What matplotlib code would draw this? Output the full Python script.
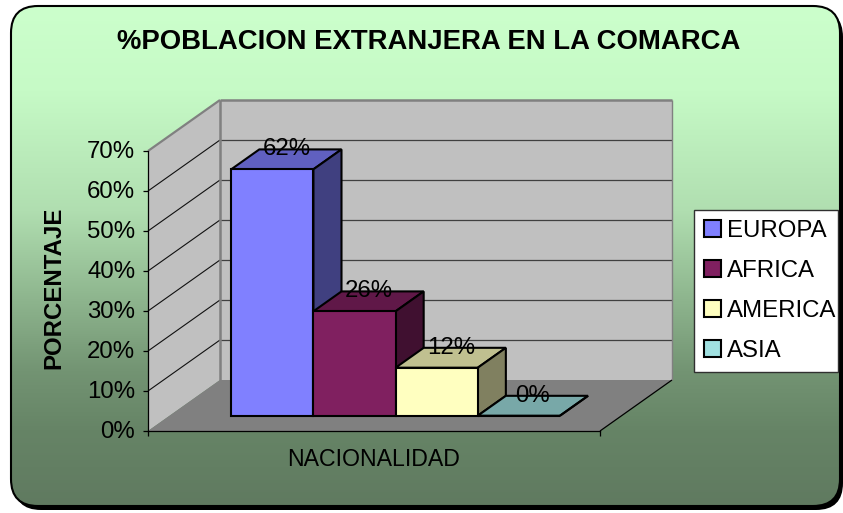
import numpy as np
import matplotlib
matplotlib.use("Agg")
import matplotlib.pyplot as plt
from matplotlib.colors import LinearSegmentedColormap
from matplotlib.patches import FancyBboxPatch, Patch, Polygon, Rectangle
from matplotlib.transforms import Affine2D, IdentityTransform

categories = ["EUROPA", "AFRICA", "AMERICA", "ASIA"]
values = [61.6, 26.1, 12.0, 0.0]
y_ticks = [0, 10, 20, 30, 40, 50, 60, 70]

W, H = 843, 513
front_col = ["#8080FF", "#802060", "#FFFFC0", "#A0E0E0"]
top_col = ["#6060C0", "#601848", "#C0C090", "#78A8A8"]
side_col = ["#404080", "#401030", "#808060", "#507070"]

plt.rcParams["font.family"] = ["Liberation Sans", "DejaVu Sans"]
FS = 17.28  # 24 px at dpi 100

fig = plt.figure(figsize=(W / 100, H / 100), dpi=100, facecolor="white")

# rounded background with shadow, in pixel coords
bg = fig.add_axes([0, 0, 1, 1], zorder=0)
bg.set_xlim(0, W)
bg.set_ylim(H, 0)
bg.axis("off")


def rounded(x0, y0, x1, y1, r, **kw):
    return FancyBboxPatch((x0 + r, y0 + r), x1 - x0 - 2 * r, y1 - y0 - 2 * r,
                          boxstyle=f"round,pad={r},rounding_size={r}", **kw)


bg.add_patch(rounded(14, 10, 843, 510, 27, fc="black", ec="none"))
stops = [(0.0, "#CCFFCC"), (0.17, "#C6FAC6"), (0.41, "#B0DEB0"), (0.57, "#91B991"),
         (0.73, "#739473"), (0.85, "#668466"), (1.0, "#607A60")]
cmap = LinearSegmentedColormap.from_list("bg", stops)
grad = np.linspace(0, 1, 256).reshape(-1, 1)
im = bg.imshow(grad, cmap=cmap, extent=(11, 840, 506, 6), aspect="auto", zorder=1)
bg.set_xlim(0, W)
bg.set_ylim(H, 0)
box = rounded(11, 6, 840, 506, 27, fc="none", ec="black", lw=1.5, zorder=2)
bg.add_patch(box)
im.set_clip_path(box)
# legend frame
bg.add_patch(Rectangle((693.5, 210), 144.5, 162, fc="white", ec="#303030", lw=1.0, zorder=3))

# front plane of the 3d box: value axis and category axis live here
ax = fig.add_axes([148 / W, (H - 431) / H, 452 / W, 280 / H], zorder=1)
ax.patch.set_visible(False)
DEPTH = (72, 51)  # px from front to back of the box
BAR_D0, BAR_D1 = 0.30, 0.69  # bar depth range


def pt(x, v, d):
    px, py = ax.transData.transform((x, v))
    return px + d * DEPTH[0], py + d * DEPTH[1]


def face(corners, **kw):
    ax.add_patch(Polygon([pt(*c) for c in corners], closed=True,
                         transform=IdentityTransform(), clip_on=False, **kw))


def seg(a, b, **kw):
    pa, pb = pt(*a), pt(*b)
    ax.plot([pa[0], pb[0]], [pa[1], pb[1]], transform=IdentityTransform(),
            clip_on=False, solid_capstyle="butt", **kw)


XL, XR = -0.75, 4.75
TOP = y_ticks[-1]
ax.set_xlim(XL, XR)
ax.set_ylim(0, TOP)

# walls and floor
face([(XL, 0, 0), (XL, TOP, 0), (XL, TOP, 1), (XL, 0, 1)], fc="#C0C0C0", ec="none", zorder=1)
face([(XL, 0, 1), (XL, TOP, 1), (XR, TOP, 1), (XR, 0, 1)], fc="#C0C0C0", ec="none", zorder=1)
face([(XL, 0, 0), (XR, 0, 0), (XR, 0, 1), (XL, 0, 1)], fc="#808080", ec="none", zorder=1)

for t in y_ticks[1:-1]:
    seg((XL, t, 0), (XL, t, 1), color="#101010", lw=0.8, zorder=1.5)
    seg((XL, t, 1), (XR, t, 1), color="#404040", lw=0.9, zorder=1.5)
seg((XL, TOP, 0), (XL, TOP, 1), color="#808080", lw=1.6, zorder=1.6)
seg((XL, TOP, 1), (XR, TOP, 1), color="#808080", lw=1.8, zorder=1.6)
seg((XL, 0, 1), (XL, TOP, 1), color="#808080", lw=1.8, zorder=1.6)
seg((XR, 0, 1), (XR, TOP, 1), color="#808080", lw=1.0, zorder=1.6)
seg((XR, 0, 0), (XR, 0, 1), color="black", lw=0.9, zorder=1.6)

# bars, left to right so that each one overlaps the previous side
base = ax.transData + Affine2D().translate(BAR_D0 * DEPTH[0], BAR_D0 * DEPTH[1])
for i, v in enumerate(values):
    z = 2 + i
    style = dict(ec="black", lw=1.5, joinstyle="miter")
    face([(i, v, BAR_D0), (i + 1, v, BAR_D0), (i + 1, v, BAR_D1), (i, v, BAR_D1)],
         fc=top_col[i], zorder=z, **style)
    face([(i + 1, 0, BAR_D0), (i + 1, v, BAR_D0), (i + 1, v, BAR_D1), (i + 1, 0, BAR_D1)],
         fc=side_col[i], zorder=z, **style)
    ax.bar(i, v, width=1, align="edge", color=front_col[i], edgecolor="black", linewidth=1.5,
           transform=base, clip_on=False, zorder=z + 0.5)
    lx, ly = pt(i + 0.5, v, (BAR_D0 + BAR_D1) / 2)
    ax.text(lx, ly + 10, f"{round(v)}%", transform=IdentityTransform(), ha="center",
            va="center", fontsize=FS, color="black", zorder=10, clip_on=False)
ax.set_xlim(XL, XR)
ax.set_ylim(0, TOP)

for s in ("top", "right"):
    ax.spines[s].set_visible(False)
for s in ("left", "bottom"):
    ax.spines[s].set_linewidth(0.9)
    ax.spines[s].set_zorder(1.7)
ax.set_yticks(y_ticks)
ax.set_yticklabels([f"{t}%" for t in y_ticks], fontsize=FS)
ax.set_xticks([XL, XR])
ax.set_xticklabels([])
ax.tick_params(length=3.6, width=0.9, pad=5.5)
for lab in ax.get_yticklabels():
    lab.set_transform(lab.get_transform() + Affine2D().translate(0, 2))

fig.text(429 / W, 1 - 42 / H, "%POBLACION EXTRANJERA EN LA COMARCA", ha="center", va="center",
         fontsize=19.8, fontweight="bold")
fig.text(374 / W, 1 - 460 / H, "NACIONALIDAD", ha="center", va="center", fontsize=16.7)
fig.text(54 / W, 1 - 288 / H, "PORCENTAJE", ha="center", va="center", rotation=90,
         fontsize=FS, fontweight="bold")

handles = [Patch(fc=c, ec="black", lw=1.5) for c in front_col]
leg = fig.legend(handles, categories, loc="lower left",
                 bbox_to_anchor=(693.5 / W, (H - 372) / H), bbox_transform=fig.transFigure,
                 fontsize=FS, frameon=False,
                 borderaxespad=0, borderpad=0.42, handlelength=0.71, handleheight=0.71,
                 handletextpad=0.27, labelspacing=0.753)

fig.savefig("out.png", dpi=100)
